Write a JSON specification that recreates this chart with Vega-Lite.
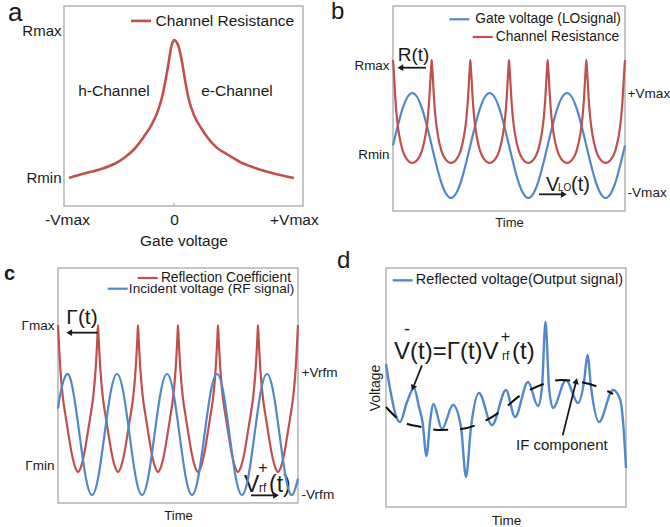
{
"$schema": "https://vega.github.io/schema/vega-lite/v6.json",
"padding": {"left": 3, "top": -1, "right": 0, "bottom": 0},
"background": "white",
"config": {
  "font": "Liberation Sans",
  "view": {"stroke": "#b4b4b4", "strokeWidth": 1.5},
  "axis": {"grid": false, "domain": false, "ticks": false, "labelFlush": false, "labelOverlap": false, "labelColor": "#1a1a1a", "titleColor": "#1a1a1a", "titleFontWeight": "normal", "labelFont": "Liberation Sans", "titleFont": "Liberation Sans"}
},
"spacing": -8,
"vconcat": [
{"hconcat": [
{"width": 6, "height": 250, "data": {"values": [{}]}, "mark": {"type": "point", "opacity": 0}, "view": {"stroke": null}},
{"width": 239, "height": 200,
 "layer": [
  {"data": {"values": [{"v":-0.981,"r":0},{"v":-0.85,"r":0.03},{"v":-0.682,"r":0.065},{"v":-0.55,"r":0.105},{"v":-0.467,"r":0.145},{"v":-0.37,"r":0.21},{"v":-0.28,"r":0.3},{"v":-0.21,"r":0.385},{"v":-0.15,"r":0.486},{"v":-0.11,"r":0.59},{"v":-0.075,"r":0.725},{"v":-0.045,"r":0.86},{"v":-0.028,"r":0.942},{"v":-0.012,"r":0.985},{"v":0,"r":1},{"v":0.015,"r":0.993},{"v":0.037,"r":0.965},{"v":0.06,"r":0.9},{"v":0.084,"r":0.8},{"v":0.11,"r":0.68},{"v":0.14,"r":0.565},{"v":0.19,"r":0.45},{"v":0.252,"r":0.364},{"v":0.315,"r":0.292},{"v":0.4,"r":0.22},{"v":0.5,"r":0.17},{"v":0.62,"r":0.115},{"v":0.75,"r":0.075},{"v":0.9,"r":0.04},{"v":1.121,"r":0}]},
   "mark": {"type": "line", "color": "#C0504D", "strokeWidth": 2.6, "interpolate": "monotone"},
   "encoding": {
     "x": {"field": "v", "type": "quantitative", "scale": {"domain": [-1.028, 1.206], "nice": false, "zero": false},
           "axis": {"values": [-1, 0, 1.121], "labelExpr": "datum.value < -0.5 ? '-Vmax' : datum.value > 0.5 ? '+Vmax' : '0'", "labelFontSize": 15.5, "labelPadding": 6, "title": "Gate voltage", "titleFontSize": 15.5, "titlePadding": 6}},
     "y": {"field": "r", "type": "quantitative", "scale": {"domain": [-0.203, 1.246], "nice": false, "zero": false},
           "axis": {"values": [0, 1.072], "labelExpr": "datum.value > 0.5 ? 'Rmax' : 'Rmin'", "labelFontSize": 15, "labelPadding": 3, "title": null}}
   }},
  {"data": {"values": [{}]}, "mark": {"type": "rule", "color": "#999999", "strokeWidth": 1}, "encoding": {"x": {"datum": 0, "type": "quantitative"}, "y": {"datum": -0.203, "type": "quantitative"}, "y2": {"datum": -0.18}}},
  {"data": {"values": [{}]}, "mark": {"type": "text", "fontSize": 15.5, "align": "center", "baseline": "alphabetic", "color": "#1a1a1a"}, "encoding": {"x": {"datum": -0.561, "type": "quantitative"}, "y": {"datum": 0.594, "type": "quantitative"}, "text": {"value": "h-Channel"}}},
  {"data": {"values": [{}]}, "mark": {"type": "text", "fontSize": 15.5, "align": "center", "baseline": "alphabetic", "color": "#1a1a1a"}, "encoding": {"x": {"datum": 0.589, "type": "quantitative"}, "y": {"datum": 0.594, "type": "quantitative"}, "text": {"value": "e-Channel"}}},
  {"data": {"values": [{}]}, "mark": {"type": "rule", "color": "#C0504D", "strokeWidth": 2.6}, "encoding": {"x": {"datum": -0.402, "type": "quantitative"}, "x2": {"datum": -0.215}, "y": {"datum": 1.138, "type": "quantitative"}}},
  {"data": {"values": [{}]}, "mark": {"type": "text", "fontSize": 15.5, "align": "right", "baseline": "middle", "color": "#1a1a1a"}, "encoding": {"x": {"datum": 1.124, "type": "quantitative"}, "y": {"datum": 1.138, "type": "quantitative"}, "text": {"value": "Channel Resistance"}}},
  {"data": {"values": [{}]}, "mark": {"type": "text", "fontSize": 26, "align": "left", "baseline": "alphabetic", "color": "#1a1a1a"}, "encoding": {"x": {"datum": -1.551, "type": "quantitative"}, "y": {"datum": 1.138, "type": "quantitative"}, "text": {"value": "a"}}}
 ]},
{"width": 90, "height": 10, "data": {"values": [{}]}, "mark": {"type": "point", "opacity": 0}, "view": {"stroke": null}},
{"width": 232, "height": 205,
 "resolve": {"scale": {"y": "independent"}},
 "layer": [
  {"layer": [
    {"data": {"values": [{"t":0,"v":0},{"t":0.25,"v":0.707},{"t":0.5,"v":1},{"t":0.75,"v":0.707},{"t":1,"v":0},{"t":1.25,"v":-0.707},{"t":1.5,"v":-1},{"t":1.75,"v":-0.707},{"t":2,"v":0},{"t":2.25,"v":0.707},{"t":2.5,"v":1},{"t":2.75,"v":0.707},{"t":3,"v":0},{"t":3.25,"v":-0.707},{"t":3.5,"v":-1},{"t":3.75,"v":-0.707},{"t":4,"v":0},{"t":4.25,"v":0.707},{"t":4.5,"v":1},{"t":4.75,"v":0.707},{"t":5,"v":0},{"t":5.25,"v":-0.707},{"t":5.5,"v":-1},{"t":5.75,"v":-0.707},{"t":6,"v":0}]},
     "mark": {"type": "line", "color": "#5288CB", "strokeWidth": 2.2, "interpolate": "natural"},
     "encoding": {
       "x": {"field": "t", "type": "quantitative"},
       "y": {"field": "v", "type": "quantitative", "scale": {"domain": [-1.248, 2.657], "nice": false, "zero": false},
             "axis": {"orient": "right", "values": [0.981, -0.905], "labelExpr": "datum.value > 0 ? '+Vmax' : '-Vmax'", "labelFontSize": 13.6, "labelPadding": 2, "title": null}}
     }}
  ]},
  {"layer": [
    {"data": {"values": [{"t":0,"r":1},{"t":0.012,"r":0.94},{"t":0.03,"r":0.83},{"t":0.06,"r":0.63},{"t":0.1,"r":0.44},{"t":0.16,"r":0.27},{"t":0.25,"r":0.12},{"t":0.36,"r":0.035},{"t":0.5,"r":0},{"t":0.64,"r":0.035},{"t":0.75,"r":0.12},{"t":0.84,"r":0.27},{"t":0.9,"r":0.44},{"t":0.94,"r":0.63},{"t":0.97,"r":0.83},{"t":0.988,"r":0.94},
      {"t":1,"r":1},{"t":1.012,"r":0.94},{"t":1.03,"r":0.83},{"t":1.06,"r":0.63},{"t":1.1,"r":0.44},{"t":1.16,"r":0.27},{"t":1.25,"r":0.12},{"t":1.36,"r":0.035},{"t":1.5,"r":0},{"t":1.64,"r":0.035},{"t":1.75,"r":0.12},{"t":1.84,"r":0.27},{"t":1.9,"r":0.44},{"t":1.94,"r":0.63},{"t":1.97,"r":0.83},{"t":1.988,"r":0.94},
      {"t":2,"r":1},{"t":2.012,"r":0.94},{"t":2.03,"r":0.83},{"t":2.06,"r":0.63},{"t":2.1,"r":0.44},{"t":2.16,"r":0.27},{"t":2.25,"r":0.12},{"t":2.36,"r":0.035},{"t":2.5,"r":0},{"t":2.64,"r":0.035},{"t":2.75,"r":0.12},{"t":2.84,"r":0.27},{"t":2.9,"r":0.44},{"t":2.94,"r":0.63},{"t":2.97,"r":0.83},{"t":2.988,"r":0.94},
      {"t":3,"r":1},{"t":3.012,"r":0.94},{"t":3.03,"r":0.83},{"t":3.06,"r":0.63},{"t":3.1,"r":0.44},{"t":3.16,"r":0.27},{"t":3.25,"r":0.12},{"t":3.36,"r":0.035},{"t":3.5,"r":0},{"t":3.64,"r":0.035},{"t":3.75,"r":0.12},{"t":3.84,"r":0.27},{"t":3.9,"r":0.44},{"t":3.94,"r":0.63},{"t":3.97,"r":0.83},{"t":3.988,"r":0.94},
      {"t":4,"r":1},{"t":4.012,"r":0.94},{"t":4.03,"r":0.83},{"t":4.06,"r":0.63},{"t":4.1,"r":0.44},{"t":4.16,"r":0.27},{"t":4.25,"r":0.12},{"t":4.36,"r":0.035},{"t":4.5,"r":0},{"t":4.64,"r":0.035},{"t":4.75,"r":0.12},{"t":4.84,"r":0.27},{"t":4.9,"r":0.44},{"t":4.94,"r":0.63},{"t":4.97,"r":0.83},{"t":4.988,"r":0.94},
      {"t":5,"r":1},{"t":5.012,"r":0.94},{"t":5.03,"r":0.83},{"t":5.06,"r":0.63},{"t":5.1,"r":0.44},{"t":5.16,"r":0.27},{"t":5.25,"r":0.12},{"t":5.36,"r":0.035},{"t":5.5,"r":0},{"t":5.64,"r":0.035},{"t":5.75,"r":0.12},{"t":5.84,"r":0.27},{"t":5.9,"r":0.44},{"t":5.94,"r":0.63},{"t":5.97,"r":0.83},{"t":5.988,"r":0.94},
      {"t":6,"r":1}]},
     "mark": {"type": "line", "color": "#C0504D", "strokeWidth": 2.2, "interpolate": "monotone"},
     "encoding": {
       "x": {"field": "t", "type": "quantitative", "scale": {"domain": [0, 6], "nice": false, "zero": false}, "axis": {"labels": false, "title": "Time", "titleFontSize": 13, "titlePadding": 5}},
       "y": {"field": "r", "type": "quantitative", "scale": {"domain": [-0.466, 1.524], "nice": false, "zero": false},
             "axis": {"orient": "left", "values": [0.078, 0.951], "labelExpr": "datum.value > 0.5 ? 'Rmax' : 'Rmin'", "labelFontSize": 13.4, "labelPadding": 4, "title": null}}
     }},
    {"data": {"values": [{}]}, "mark": {"type": "text", "fontSize": 19, "align": "center", "baseline": "alphabetic", "color": "#1a1a1a"}, "encoding": {"x": {"datum": 0.53, "type": "quantitative"}, "y": {"datum": 0.99, "type": "quantitative"}, "text": {"value": "R(t)"}}},
    {"data": {"values": [{}]}, "mark": {"type": "rule", "color": "#1a1a1a", "strokeWidth": 1.8}, "encoding": {"x": {"datum": 0.19, "type": "quantitative"}, "x2": {"datum": 0.853}, "y": {"datum": 0.925, "type": "quantitative"}}},
    {"data": {"values": [{}]}, "mark": {"type": "point", "shape": "triangle-left", "filled": true, "size": 45, "color": "#1a1a1a", "opacity": 1}, "encoding": {"x": {"datum": 0.19, "type": "quantitative"}, "y": {"datum": 0.925, "type": "quantitative"}}},
    {"data": {"values": [{}]}, "mark": {"type": "text", "fontSize": 20, "align": "left", "baseline": "alphabetic", "color": "#1a1a1a"}, "encoding": {"x": {"datum": 3.957, "type": "quantitative"}, "y": {"datum": -0.272, "type": "quantitative"}, "text": {"value": "V"}}},
    {"data": {"values": [{}]}, "mark": {"type": "text", "fontSize": 10, "align": "left", "baseline": "alphabetic", "color": "#1a1a1a"}, "encoding": {"x": {"datum": 4.267, "type": "quantitative"}, "y": {"datum": -0.272, "type": "quantitative"}, "text": {"value": "LO"}}},
    {"data": {"values": [{}]}, "mark": {"type": "text", "fontSize": 20, "align": "left", "baseline": "alphabetic", "color": "#1a1a1a"}, "encoding": {"x": {"datum": 4.603, "type": "quantitative"}, "y": {"datum": -0.272, "type": "quantitative"}, "text": {"value": "(t)"}}},
    {"data": {"values": [{}]}, "mark": {"type": "rule", "color": "#1a1a1a", "strokeWidth": 1.8}, "encoding": {"x": {"datum": 3.776, "type": "quantitative"}, "x2": {"datum": 4.42}, "y": {"datum": -0.304, "type": "quantitative"}}},
    {"data": {"values": [{}]}, "mark": {"type": "point", "shape": "triangle-right", "filled": true, "size": 45, "color": "#1a1a1a", "opacity": 1}, "encoding": {"x": {"datum": 4.42, "type": "quantitative"}, "y": {"datum": -0.304, "type": "quantitative"}}},
    {"data": {"values": [{}]}, "mark": {"type": "rule", "color": "#5288CB", "strokeWidth": 2.2}, "encoding": {"x": {"datum": 1.457, "type": "quantitative"}, "x2": {"datum": 1.974}, "y": {"datum": 1.395, "type": "quantitative"}}},
    {"data": {"values": [{}]}, "mark": {"type": "text", "fontSize": 13.8, "align": "right", "baseline": "middle", "color": "#1a1a1a"}, "encoding": {"x": {"datum": 5.896, "type": "quantitative"}, "y": {"datum": 1.395, "type": "quantitative"}, "text": {"value": "Gate voltage (LOsignal)"}}},
    {"data": {"values": [{}]}, "mark": {"type": "rule", "color": "#C0504D", "strokeWidth": 2.2}, "encoding": {"x": {"datum": 2.061, "type": "quantitative"}, "x2": {"datum": 2.578}, "y": {"datum": 1.223, "type": "quantitative"}}},
    {"data": {"values": [{}]}, "mark": {"type": "text", "fontSize": 13.8, "align": "right", "baseline": "middle", "color": "#1a1a1a"}, "encoding": {"x": {"datum": 5.852, "type": "quantitative"}, "y": {"datum": 1.223, "type": "quantitative"}, "text": {"value": "Channel Resistance"}}},
    {"data": {"values": [{}]}, "mark": {"type": "text", "fontSize": 24, "align": "left", "baseline": "alphabetic", "color": "#1a1a1a"}, "encoding": {"x": {"datum": -1.603, "type": "quantitative"}, "y": {"datum": 1.395, "type": "quantitative"}, "text": {"value": "b"}}}
  ]}
 ]}
], "spacing": 0, "bounds": "flush"},
{"hconcat": [
{"width": 240, "height": 235,
 "resolve": {"scale": {"y": "independent"}},
 "layer": [
  {"layer": [
    {"data": {"values": [{"t":0,"r":1},{"t":0.015,"r":0.92},{"t":0.035,"r":0.81},{"t":0.075,"r":0.64},{"t":0.125,"r":0.5},{"t":0.19,"r":0.38},{"t":0.26,"r":0.26},{"t":0.34,"r":0.13},{"t":0.42,"r":0.04},{"t":0.5,"r":0},{"t":0.58,"r":0.04},{"t":0.66,"r":0.13},{"t":0.74,"r":0.26},{"t":0.81,"r":0.38},{"t":0.875,"r":0.5},{"t":0.925,"r":0.64},{"t":0.965,"r":0.81},{"t":0.985,"r":0.92},
      {"t":1,"r":1},{"t":1.015,"r":0.92},{"t":1.035,"r":0.81},{"t":1.075,"r":0.64},{"t":1.125,"r":0.5},{"t":1.19,"r":0.38},{"t":1.26,"r":0.26},{"t":1.34,"r":0.13},{"t":1.42,"r":0.04},{"t":1.5,"r":0},{"t":1.58,"r":0.04},{"t":1.66,"r":0.13},{"t":1.74,"r":0.26},{"t":1.81,"r":0.38},{"t":1.875,"r":0.5},{"t":1.925,"r":0.64},{"t":1.965,"r":0.81},{"t":1.985,"r":0.92},
      {"t":2,"r":1},{"t":2.015,"r":0.92},{"t":2.035,"r":0.81},{"t":2.075,"r":0.64},{"t":2.125,"r":0.5},{"t":2.19,"r":0.38},{"t":2.26,"r":0.26},{"t":2.34,"r":0.13},{"t":2.42,"r":0.04},{"t":2.5,"r":0},{"t":2.58,"r":0.04},{"t":2.66,"r":0.13},{"t":2.74,"r":0.26},{"t":2.81,"r":0.38},{"t":2.875,"r":0.5},{"t":2.925,"r":0.64},{"t":2.965,"r":0.81},{"t":2.985,"r":0.92},
      {"t":3,"r":1},{"t":3.015,"r":0.92},{"t":3.035,"r":0.81},{"t":3.075,"r":0.64},{"t":3.125,"r":0.5},{"t":3.19,"r":0.38},{"t":3.26,"r":0.26},{"t":3.34,"r":0.13},{"t":3.42,"r":0.04},{"t":3.5,"r":0},{"t":3.58,"r":0.04},{"t":3.66,"r":0.13},{"t":3.74,"r":0.26},{"t":3.81,"r":0.38},{"t":3.875,"r":0.5},{"t":3.925,"r":0.64},{"t":3.965,"r":0.81},{"t":3.985,"r":0.92},
      {"t":4,"r":1},{"t":4.015,"r":0.92},{"t":4.035,"r":0.81},{"t":4.075,"r":0.64},{"t":4.125,"r":0.5},{"t":4.19,"r":0.38},{"t":4.26,"r":0.26},{"t":4.34,"r":0.13},{"t":4.42,"r":0.04},{"t":4.5,"r":0},{"t":4.58,"r":0.04},{"t":4.66,"r":0.13},{"t":4.74,"r":0.26},{"t":4.81,"r":0.38},{"t":4.875,"r":0.5},{"t":4.925,"r":0.64},{"t":4.965,"r":0.81},{"t":4.985,"r":0.92},
      {"t":5,"r":1},{"t":5.015,"r":0.92},{"t":5.035,"r":0.81},{"t":5.075,"r":0.64},{"t":5.125,"r":0.5},{"t":5.19,"r":0.38},{"t":5.26,"r":0.26},{"t":5.34,"r":0.13},{"t":5.42,"r":0.04},{"t":5.5,"r":0},{"t":5.58,"r":0.04},{"t":5.66,"r":0.13},{"t":5.74,"r":0.26},{"t":5.81,"r":0.38},{"t":5.875,"r":0.5},{"t":5.925,"r":0.64},{"t":5.965,"r":0.81},{"t":5.985,"r":0.92},
      {"t":6,"r":1}]},
     "mark": {"type": "line", "color": "#C0504D", "strokeWidth": 2.2, "interpolate": "monotone"},
     "encoding": {
       "x": {"field": "t", "type": "quantitative", "scale": {"domain": [0, 6], "nice": false, "zero": false}, "axis": {"labels": false, "title": "Time", "titleFontSize": 13, "titlePadding": 6}},
       "y": {"field": "r", "type": "quantitative", "scale": {"domain": [-0.211, 1.388], "nice": false, "zero": false},
             "axis": {"orient": "left", "values": [0.041, 1.0], "labelExpr": "datum.value > 0.5 ? 'Γmax' : 'Γmin'", "labelFontSize": 13.5, "labelPadding": 4, "title": null}}
     }},
    {"data": {"values": [{}]}, "mark": {"type": "text", "fontSize": 21, "align": "center", "baseline": "alphabetic", "color": "#1a1a1a"}, "encoding": {"x": {"datum": 0.6, "type": "quantitative"}, "y": {"datum": 1.009, "type": "quantitative"}, "text": {"value": "Γ(t)"}}},
    {"data": {"values": [{}]}, "mark": {"type": "rule", "color": "#1a1a1a", "strokeWidth": 1.8}, "encoding": {"x": {"datum": 0.28, "type": "quantitative"}, "x2": {"datum": 0.992}, "y": {"datum": 0.948, "type": "quantitative"}}},
    {"data": {"values": [{}]}, "mark": {"type": "point", "shape": "triangle-left", "filled": true, "size": 45, "color": "#1a1a1a", "opacity": 1}, "encoding": {"x": {"datum": 0.28, "type": "quantitative"}, "y": {"datum": 0.948, "type": "quantitative"}}},
    {"data": {"values": [{}]}, "mark": {"type": "text", "fontSize": 23, "align": "left", "baseline": "alphabetic", "color": "#1a1a1a"}, "encoding": {"x": {"datum": 4.65, "type": "quantitative"}, "y": {"datum": -0.136, "type": "quantitative"}, "text": {"value": "V"}}},
    {"data": {"values": [{}]}, "mark": {"type": "text", "fontSize": 16, "align": "center", "baseline": "middle", "color": "#1a1a1a"}, "encoding": {"x": {"datum": 5.125, "type": "quantitative"}, "y": {"datum": 0.027, "type": "quantitative"}, "text": {"value": "+"}}},
    {"data": {"values": [{}]}, "mark": {"type": "text", "fontSize": 12, "align": "left", "baseline": "alphabetic", "color": "#1a1a1a"}, "encoding": {"x": {"datum": 5.025, "type": "quantitative"}, "y": {"datum": -0.136, "type": "quantitative"}, "text": {"value": "rf"}}},
    {"data": {"values": [{}]}, "mark": {"type": "text", "fontSize": 23, "align": "left", "baseline": "alphabetic", "color": "#1a1a1a"}, "encoding": {"x": {"datum": 5.275, "type": "quantitative"}, "y": {"datum": -0.136, "type": "quantitative"}, "text": {"value": "(t)"}}},
    {"data": {"values": [{}]}, "mark": {"type": "rule", "color": "#1a1a1a", "strokeWidth": 1.8}, "encoding": {"x": {"datum": 4.825, "type": "quantitative"}, "x2": {"datum": 5.45}, "y": {"datum": -0.159, "type": "quantitative"}}},
    {"data": {"values": [{}]}, "mark": {"type": "point", "shape": "triangle-right", "filled": true, "size": 45, "color": "#1a1a1a", "opacity": 1}, "encoding": {"x": {"datum": 5.45, "type": "quantitative"}, "y": {"datum": -0.159, "type": "quantitative"}}},
    {"data": {"values": [{}]}, "mark": {"type": "rule", "color": "#C0504D", "strokeWidth": 2.2}, "encoding": {"x": {"datum": 1.992, "type": "quantitative"}, "x2": {"datum": 2.492}, "y": {"datum": 1.32, "type": "quantitative"}}},
    {"data": {"values": [{}]}, "mark": {"type": "text", "fontSize": 13.8, "align": "right", "baseline": "middle", "color": "#1a1a1a"}, "encoding": {"x": {"datum": 5.825, "type": "quantitative"}, "y": {"datum": 1.32, "type": "quantitative"}, "text": {"value": "Reflection Coefficient"}}},
    {"data": {"values": [{}]}, "mark": {"type": "rule", "color": "#5288CB", "strokeWidth": 2.2}, "encoding": {"x": {"datum": 1.242, "type": "quantitative"}, "x2": {"datum": 1.742}, "y": {"datum": 1.247, "type": "quantitative"}}},
    {"data": {"values": [{}]}, "mark": {"type": "text", "fontSize": 13.6, "align": "right", "baseline": "middle", "color": "#1a1a1a"}, "encoding": {"x": {"datum": 5.908, "type": "quantitative"}, "y": {"datum": 1.247, "type": "quantitative"}, "text": {"value": "Incident voltage (RF signal)"}}},
    {"data": {"values": [{}]}, "mark": {"type": "text", "fontSize": 20, "fontWeight": "bold", "align": "left", "baseline": "alphabetic", "color": "#1a1a1a"}, "encoding": {"x": {"datum": -1.35, "type": "quantitative"}, "y": {"datum": 1.306, "type": "quantitative"}, "text": {"value": "c"}}}
  ]},
  {"layer": [
    {"data": {"values": [{"t":0,"v":0.426},{"t":0.069,"v":0.707},{"t":0.225,"v":1},{"t":0.381,"v":0.707},{"t":0.538,"v":0},{"t":0.694,"v":-0.707},{"t":0.85,"v":-1},{"t":1.006,"v":-0.707},{"t":1.163,"v":0},{"t":1.319,"v":0.707},{"t":1.475,"v":1},{"t":1.631,"v":0.707},{"t":1.788,"v":0},{"t":1.944,"v":-0.707},{"t":2.1,"v":-1},{"t":2.256,"v":-0.707},{"t":2.413,"v":0},{"t":2.569,"v":0.707},{"t":2.725,"v":1},{"t":2.881,"v":0.707},{"t":3.038,"v":0},{"t":3.194,"v":-0.707},{"t":3.35,"v":-1},{"t":3.506,"v":-0.707},{"t":3.663,"v":0},{"t":3.819,"v":0.707},{"t":3.975,"v":1},{"t":4.131,"v":0.707},{"t":4.288,"v":0},{"t":4.444,"v":-0.707},{"t":4.6,"v":-1},{"t":4.756,"v":-0.707},{"t":4.913,"v":0},{"t":5.069,"v":0.707},{"t":5.225,"v":1},{"t":5.381,"v":0.707},{"t":5.538,"v":0},{"t":5.694,"v":-0.707},{"t":5.85,"v":-1},{"t":6,"v":-0.729}]},
     "mark": {"type": "line", "color": "#5288CB", "strokeWidth": 2.2, "interpolate": "natural"},
     "encoding": {
       "x": {"field": "t", "type": "quantitative"},
       "y": {"field": "v", "type": "quantitative", "scale": {"domain": [-1.132, 2.752], "nice": false, "zero": false},
             "axis": {"orient": "right", "values": [1.017, -0.992], "labelExpr": "datum.value > 0 ? '+Vrfm' : '-Vrfm'", "labelFontSize": 13.6, "labelPadding": 3, "title": null}}
     }}
  ]}
 ]},
{"width": 88, "height": 10, "data": {"values": [{}]}, "mark": {"type": "point", "opacity": 0}, "view": {"stroke": null}},
{"width": 240, "height": 239,
 "layer": [
  {"data": {"values": [{"t":0,"v":1.48},{"t":0.208,"v":0.88},{"t":0.417,"v":0.44},{"t":0.583,"v":0.32},{"t":0.875,"v":0.72},{"t":1.167,"v":1.0},{"t":1.375,"v":0.62},{"t":1.521,"v":0.32},{"t":1.688,"v":-0.36},{"t":1.833,"v":0.32},{"t":1.979,"v":0.68},{"t":2.333,"v":0.18},{"t":2.792,"v":0.66},{"t":3.125,"v":0.22},{"t":3.333,"v":-0.78},{"t":3.542,"v":0.22},{"t":3.875,"v":0.9},{"t":4.417,"v":0.26},{"t":5.0,"v":0.96},{"t":5.375,"v":0.42},{"t":5.917,"v":1.12},{"t":6.333,"v":0.64},{"t":6.5,"v":1.02},{"t":6.646,"v":2.32},{"t":6.792,"v":1.02},{"t":6.958,"v":0.6},{"t":7.5,"v":1.16},{"t":8.0,"v":0.7},{"t":8.25,"v":1.12},{"t":8.396,"v":1.66},{"t":8.542,"v":1.02},{"t":8.875,"v":0.32},{"t":9.458,"v":0.96},{"t":9.75,"v":0.78},{"t":9.896,"v":0.22},{"t":10,"v":-0.6}]},
   "mark": {"type": "line", "color": "#5288CB", "strokeWidth": 2.4, "interpolate": "monotone"},
   "encoding": {
     "x": {"field": "t", "type": "quantitative", "scale": {"domain": [0, 10], "nice": false, "zero": false}, "axis": {"labels": false, "title": "Time", "titleFontSize": 13.5, "titlePadding": 6}},
     "y": {"field": "v", "type": "quantitative", "scale": {"domain": [-1.38, 3.4], "nice": false, "zero": false}, "axis": {"labels": false, "title": "Voltage", "titleFontSize": 14, "titlePadding": 4}}
   }},
  {"data": {"values": [{"t":0,"v":0.62},{"t":0.625,"v":0.34},{"t":1.458,"v":0.22},{"t":2.292,"v":0.16},{"t":3.125,"v":0.18},{"t":3.958,"v":0.3},{"t":4.792,"v":0.54},{"t":5.625,"v":0.86},{"t":6.458,"v":1.06},{"t":7.292,"v":1.16},{"t":8.125,"v":1.12},{"t":8.958,"v":1.0},{"t":9.458,"v":0.88}]},
   "mark": {"type": "line", "color": "#111111", "strokeWidth": 2, "strokeDash": [15, 12], "interpolate": "monotone"},
   "encoding": {"x": {"field": "t", "type": "quantitative"}, "y": {"field": "v", "type": "quantitative"}}},
  {"data": {"values": [{}]}, "mark": {"type": "text", "fontSize": 24, "align": "left", "baseline": "alphabetic", "color": "#1a1a1a"}, "encoding": {"x": {"datum": 0.333, "type": "quantitative"}, "y": {"datum": 1.586, "type": "quantitative"}, "text": {"value": "V"}}},
  {"data": {"values": [{}]}, "mark": {"type": "text", "fontSize": 18, "align": "center", "baseline": "middle", "color": "#1a1a1a"}, "encoding": {"x": {"datum": 0.875, "type": "quantitative"}, "y": {"datum": 2.16, "type": "quantitative"}, "text": {"value": "-"}}},
  {"data": {"values": [{}]}, "mark": {"type": "text", "fontSize": 24, "align": "left", "baseline": "alphabetic", "color": "#1a1a1a"}, "encoding": {"x": {"datum": 1.0, "type": "quantitative"}, "y": {"datum": 1.586, "type": "quantitative"}, "text": {"value": "(t)=Γ(t)V"}}},
  {"data": {"values": [{}]}, "mark": {"type": "text", "fontSize": 16, "align": "center", "baseline": "middle", "color": "#1a1a1a"}, "encoding": {"x": {"datum": 4.979, "type": "quantitative"}, "y": {"datum": 2.02, "type": "quantitative"}, "text": {"value": "+"}}},
  {"data": {"values": [{}]}, "mark": {"type": "text", "fontSize": 12, "align": "left", "baseline": "alphabetic", "color": "#1a1a1a"}, "encoding": {"x": {"datum": 4.833, "type": "quantitative"}, "y": {"datum": 1.56, "type": "quantitative"}, "text": {"value": "rf"}}},
  {"data": {"values": [{}]}, "mark": {"type": "text", "fontSize": 24, "align": "left", "baseline": "alphabetic", "color": "#1a1a1a"}, "encoding": {"x": {"datum": 5.25, "type": "quantitative"}, "y": {"datum": 1.586, "type": "quantitative"}, "text": {"value": "(t)"}}},
  {"data": {"values": [{}]}, "mark": {"type": "rule", "color": "#1a1a1a", "strokeWidth": 1.8}, "encoding": {"x": {"datum": 1.5, "type": "quantitative"}, "x2": {"datum": 1.138}, "y": {"datum": 1.453, "type": "quantitative"}, "y2": {"datum": 1.02}}},
  {"data": {"values": [{}]}, "mark": {"type": "point", "shape": "triangle", "filled": true, "size": 45, "angle": 202, "color": "#1a1a1a", "opacity": 1}, "encoding": {"x": {"datum": 1.138, "type": "quantitative"}, "y": {"datum": 1.02, "type": "quantitative"}}},
  {"data": {"values": [{}]}, "mark": {"type": "rule", "color": "#1a1a1a", "strokeWidth": 1.8}, "encoding": {"x": {"datum": 7.362, "type": "quantitative"}, "x2": {"datum": 7.917}, "y": {"datum": 0.053, "type": "quantitative"}, "y2": {"datum": 1.12}}},
  {"data": {"values": [{}]}, "mark": {"type": "point", "shape": "triangle", "filled": true, "size": 45, "angle": 14, "color": "#1a1a1a", "opacity": 1}, "encoding": {"x": {"datum": 7.917, "type": "quantitative"}, "y": {"datum": 1.12, "type": "quantitative"}}},
  {"data": {"values": [{}]}, "mark": {"type": "text", "fontSize": 15, "align": "center", "baseline": "alphabetic", "color": "#1a1a1a"}, "encoding": {"x": {"datum": 7.326, "type": "quantitative"}, "y": {"datum": -0.247, "type": "quantitative"}, "text": {"value": "IF component"}}},
  {"data": {"values": [{}]}, "mark": {"type": "rule", "color": "#5288CB", "strokeWidth": 2.4}, "encoding": {"x": {"datum": 0.278, "type": "quantitative"}, "x2": {"datum": 1.111}, "y": {"datum": 3.153, "type": "quantitative"}}},
  {"data": {"values": [{}]}, "mark": {"type": "text", "fontSize": 14.5, "align": "right", "baseline": "middle", "color": "#1a1a1a"}, "encoding": {"x": {"datum": 9.875, "type": "quantitative"}, "y": {"datum": 3.153, "type": "quantitative"}, "text": {"value": "Reflected voltage(Output signal)"}}},
  {"data": {"values": [{}]}, "mark": {"type": "text", "fontSize": 24, "align": "left", "baseline": "alphabetic", "color": "#1a1a1a"}, "encoding": {"x": {"datum": -2.042, "type": "quantitative"}, "y": {"datum": 3.4, "type": "quantitative"}, "text": {"value": "d"}}}
 ]}
], "spacing": 0, "bounds": "flush"}
]
}
